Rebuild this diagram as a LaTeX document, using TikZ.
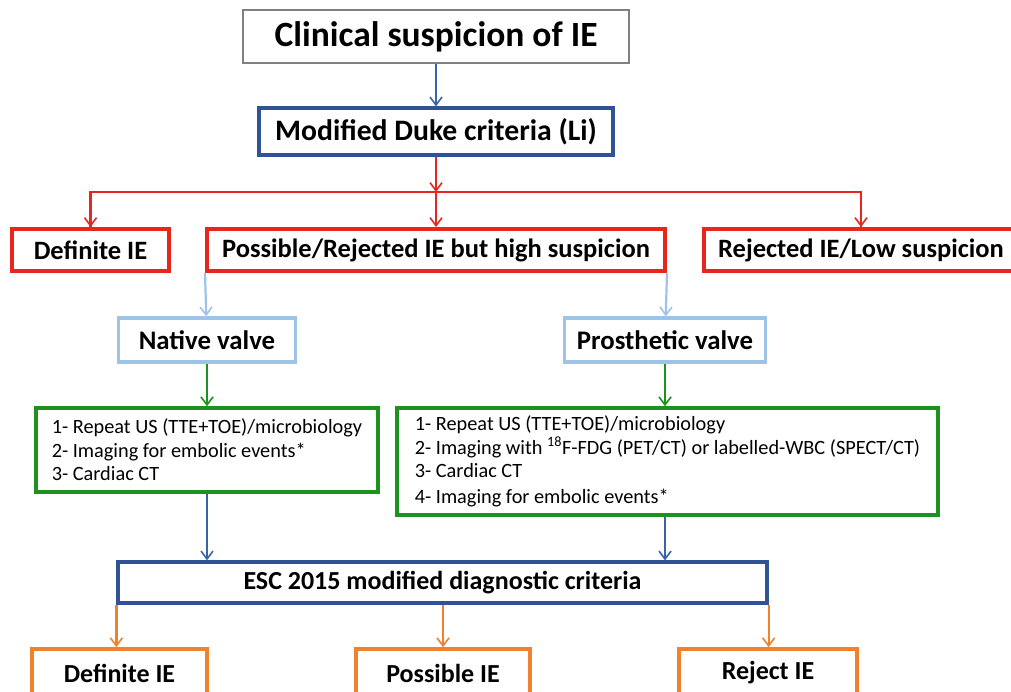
\documentclass[tikz,border=0pt]{standalone}
\usepackage{fontspec}
\setmainfont{Carlito}
\usetikzlibrary{
    arrows.meta,
    positioning,
    calc
}
\definecolor{boxgray}{RGB}{128,128,128}
\definecolor{darkblue}{RGB}{46,84,150}
\definecolor{arrblue}{RGB}{58,100,170}
\definecolor{boxred}{RGB}{232,38,30}
\definecolor{lightblue}{RGB}{157,195,230}
\definecolor{boxgreen}{RGB}{30,145,30}
\definecolor{boxorange}{RGB}{240,130,45}
\tikzset{
    % Boxes
    box/.style={draw,rectangle,inner sep=0pt,fill=white,align=center},
    gray box/.style={box,draw=boxgray,line width=2pt,font=\bfseries\fontsize{35.5}{40}\selectfont},
    blue box/.style={box,draw=darkblue,line width=3.2pt,font=\bfseries\fontsize{29.7}{34}\selectfont},
    red box/.style={box,draw=boxred,line width=4pt,font=\bfseries\fontsize{26.5}{30}\selectfont},
    lb box/.style={box,draw=lightblue,line width=3.4pt,font=\bfseries\fontsize{26.8}{30}\selectfont},
    green box/.style={box,draw=boxgreen,line width=3.6pt,align=left,font=\fontsize{20.3}{23.5}\selectfont},
    esc box/.style={box,draw=darkblue,line width=3.2pt,font=\bfseries\fontsize{26}{30}\selectfont},
    orange box/.style={box,draw=boxorange,line width=3.6pt,font=\bfseries\fontsize{26}{30}\selectfont},
    %
    % Arrows
    arrow tip/.tip={Straight Barb[length=8pt,width=12pt,line width=1.6pt]},
    arr/.style={-{arrow tip},line width=2.2pt,color=#1},
    lin/.style={line width=2.2pt,color=#1}
}

\begin{document}
\begin{tikzpicture}[x=1pt,y=-1pt]
    \useasboundingbox (0,0) rectangle (1011,692);
    % first part
    \node[gray box,minimum width=386pt,minimum height=53pt] (clin) at (436,36.5) {Clinical suspicion of IE};
    \node[blue box,minimum width=354pt,minimum height=47pt] (duke) at (436,131.5) {Modified Duke criteria (Li)};
    \coordinate (split) at (436,192);
    \node[red box,minimum width=157pt,minimum height=42pt] (defA) at (90.5,250) {Definite IE};
    \node[red box,minimum width=458pt,minimum height=42pt] (possA) at (436,250) {Possible/Rejected IE but high suspicion};
    \node[red box,minimum width=314pt,minimum height=42pt] (rejA) at (861,250) {Rejected IE/Low suspicion};
    \draw[arr=arrblue] (clin) -- (duke);
    \draw[arr=boxred] (duke) -- (split);
    \draw[lin=boxred] (split) -| (defA.north);
    \draw[arr=boxred] (defA.north |- split) -- (defA.north);
    \draw[arr=boxred] (split) -- (possA);
    \draw[lin=boxred] (split) -| (rejA.north);
    \draw[arr=boxred] (rejA.north |- split) -- (rejA.north);
    % valves
    \node[lb box,minimum width=177pt,minimum height=44pt] (native) at (207,340) {Native valve};
    \node[lb box,minimum width=201pt,minimum height=44pt] (prosth) at (665,340) {Prosthetic valve};
    \draw[arr=lightblue] (possA.south west) -- (native);
    \draw[arr=lightblue] (possA.south east) -- (prosth);
    \node[green box,minimum width=342pt,minimum height=84pt] (natList) at (207,450)
        {1- Repeat US (TTE+TOE)/microbiology\\2- Imaging for embolic events*\\3- Cardiac CT};
    \node[green box,minimum width=541pt,minimum height=107pt] (prosList) at (667.5,461.5)
        {1- Repeat US (TTE+TOE)/microbiology\\2- Imaging with \textsuperscript{18}F-FDG (PET/CT) or labelled-WBC (SPECT/CT)\\3- Cardiac CT\\[2pt]4- Imaging for embolic events*};
    \draw[arr=boxgreen] (native) -- (natList);
    \draw[arr=boxgreen] (prosth) -- (prosth |- prosList.north);
    % second part
    \node[esc box,minimum width=649pt,minimum height=41pt] (esc) at (442.5,582.5) {ESC 2015 modified diagnostic criteria};
    \draw[arr=arrblue] (natList) -- (natList |- esc.north);
    \draw[arr=arrblue] (prosList.south -| prosth) -- (prosth |- esc.north);
    \node[orange box,minimum width=175pt,minimum height=48pt] (defB) at (119.5,673) {Definite IE};
    \node[orange box,minimum width=174pt,minimum height=48pt] (possB) at (443,673) {Possible IE};
    \node[orange box,minimum width=178pt,minimum height=48pt] (rejB) at (768,673) {Reject IE};
    \draw[arr=boxorange] (esc.south west) -- (esc.south west |- defB.north);
    \draw[arr=boxorange] (esc.south -| possB) -- (possB);
    \draw[arr=boxorange] (esc.south east) -- (esc.south east |- rejB.north);
\end{tikzpicture}
\end{document}
